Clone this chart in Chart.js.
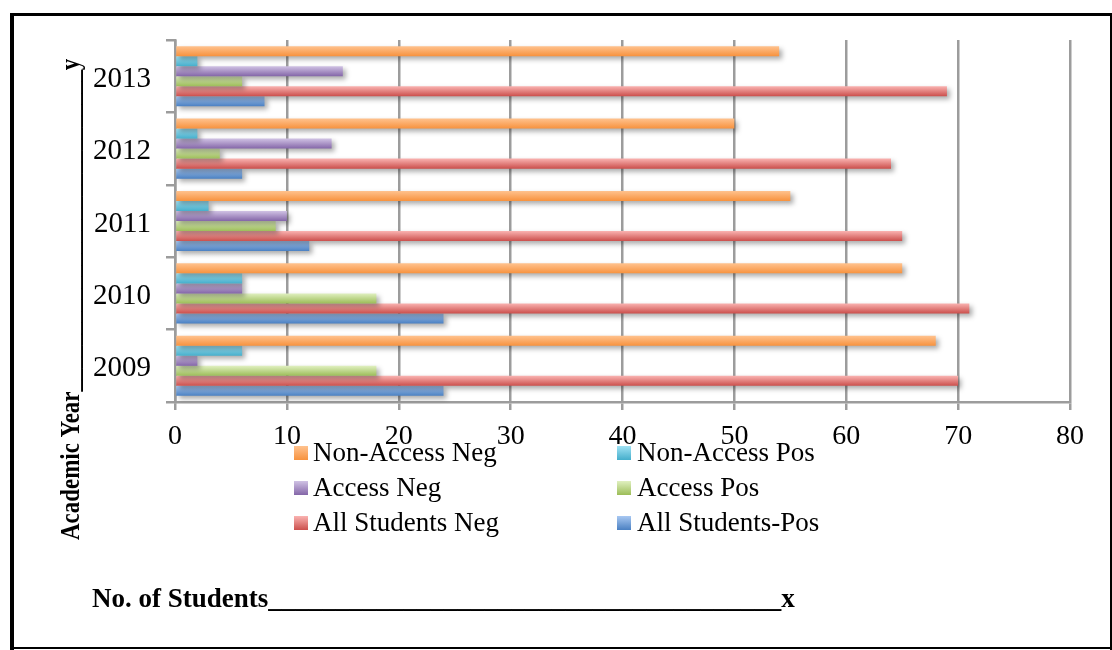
<!DOCTYPE html>
<html>
<head>
<meta charset="utf-8">
<script src="https://cdn.jsdelivr.net/npm/chart.js@4.4.1/dist/chart.umd.min.js"></script>
<style>
  html, body { margin: 0; padding: 0; background: #ffffff; }
  #wrap { width: 1112px; height: 650px; position: relative; }
  canvas { display: block; }
</style>
</head>
<body>
<div id="wrap"><canvas id="chart" width="1112" height="650"></canvas></div>
<script>
// Academic years, top to bottom
const years = ['2013', '2012', '2011', '2010', '2009'];

// Number of students per group and outcome
const nonAccessNeg = [54, 50, 55, 65, 68];
const nonAccessPos = [2, 2, 3, 6, 6];
const accessNeg    = [15, 14, 10, 6, 2];
const accessPos    = [6, 4, 9, 18, 18];
const allNeg       = [69, 64, 65, 71, 70];
const allPos       = [8, 6, 12, 24, 24];

const seriesNames = ['Non-Access Neg', 'Non-Access Pos', 'Access Neg', 'Access Pos', 'All Students Neg', 'All Students-Pos'];
const xTickValues = [0, 10, 20, 30, 40, 50, 60, 70, 80];

const yTitle = 'Academic Year' + '_'.repeat(28) + 'y';
const xTitle = 'No. of Students' + '_'.repeat(38) + 'x';

// light (top) and dark (bottom) shade for each series
const shades = [
  ['#FFC28E', '#F7923E'],
  ['#A0E2F4', '#45AECB'],
  ['#D0C2E4', '#8466A8'],
  ['#E0F0C0', '#9CBD58'],
  ['#FAB3B1', '#CB4F4C'],
  ['#A8C8F2', '#4A80C2']
];

const seriesValues = [nonAccessNeg, nonAccessPos, accessNeg, accessPos, allNeg, allPos];

const FONT = "'Liberation Serif', 'Times New Roman', serif";
const GRID = '#9c9c9c';

function shadeFill(ctx, top, bottom, idx) {
  const g = ctx.createLinearGradient(0, top, 0, bottom);
  g.addColorStop(0, shades[idx][0]);
  g.addColorStop(1, shades[idx][1]);
  return g;
}

// Bars are drawn one by one with a vertical shade and a soft drop shadow
const shadedBars = {
  id: 'shadedBars',
  beforeDatasetDraw(chart, args) {
    const ctx = chart.ctx;
    const idx = args.index;
    ctx.save();
    args.meta.data.forEach(bar => {
      const p = bar.getProps(['x', 'y', 'base', 'height'], true);
      bar.options.backgroundColor = shadeFill(ctx, p.y - p.height / 2, p.y + p.height / 2, idx);
      ctx.shadowColor = 'rgba(0,0,0,0.33)';
      ctx.shadowBlur = 5;
      ctx.shadowOffsetX = 3;
      ctx.shadowOffsetY = 3;
      bar.draw(ctx);
    });
    ctx.restore();
    return false;
  }
};

// Background, frame, two-column legend and the axis captions
const decor = {
  id: 'decor',
  beforeDraw(chart) {
    const ctx = chart.ctx;
    ctx.save();
    ctx.fillStyle = '#ffffff';
    ctx.fillRect(0, 0, chart.width, chart.height);
    ctx.restore();
  },
  afterDraw(chart) {
    const ctx = chart.ctx;
    ctx.save();
    // frame
    ctx.fillStyle = '#000000';
    ctx.fillRect(10, 13, 4, 637);
    ctx.fillRect(10, 13, 1102, 3);
    ctx.fillRect(10, 647, 1102, 2);
    ctx.fillRect(1110, 13, 2, 637);

    // legend
    const colX = [294, 617];
    const textX = [313, 637];
    const rowTop = [446, 481, 516];
    ctx.font = '27px ' + FONT;
    ctx.textBaseline = 'alphabetic';
    ctx.textAlign = 'left';
    chart.data.datasets.forEach((ds, i) => {
      const col = i % 2, row = Math.floor(i / 2);
      const x = colX[col], y = rowTop[row];
      ctx.fillStyle = shadeFill(ctx, y, y + 14, i);
      ctx.fillRect(x, y, 14, 14);
      ctx.fillStyle = '#000000';
      ctx.fillText(ds.label, textX[col], y + 15);
    });

    // axis captions
    ctx.font = 'bold 27px ' + FONT;
    ctx.fillStyle = '#000000';
    ctx.fillText(xTitle, 92, 607);

    ctx.translate(79, 540);
    ctx.rotate(-Math.PI / 2);
    ctx.scale(0.85, 1);
    ctx.fillText(yTitle, 0, 0);
    ctx.restore();
  }
};

Chart.defaults.font.family = FONT;
Chart.defaults.color = '#000000';

new Chart(document.getElementById('chart'), {
  type: 'bar',
  data: {
    labels: years,
    datasets: seriesValues.map((vals, i) => ({
      label: seriesNames[i],
      data: vals,
      backgroundColor: shades[i][1],
      borderWidth: 0,
      barPercentage: 1.0,
      categoryPercentage: 0.83
    }))
  },
  options: {
    indexAxis: 'y',
    responsive: false,
    animation: false,
    devicePixelRatio: 1,
    layout: { padding: { top: 40, right: 42, left: 0, bottom: 0 } },
    plugins: {
      legend: { display: false },
      tooltip: { enabled: false }
    },
    scales: {
      x: {
        min: 0,
        max: 80,
        afterBuildTicks: s => { s.ticks = xTickValues.map(v => ({ value: v })); },
        afterFit: s => { s.height = 248; },
        grid: { color: GRID, lineWidth: 2.5, tickLength: 8, drawTicks: true },
        border: { color: GRID, width: 2.5 },
        ticks: { font: { size: 28 }, color: '#000000', padding: 10, maxRotation: 0 }
      },
      y: {
        type: 'category',
        offset: true,
        afterFit: s => { s.width = 175; },
        grid: { drawOnChartArea: false, offset: true, color: GRID, lineWidth: 2.5, tickLength: 9 },
        border: { color: GRID, width: 2.5 },
        ticks: { font: { size: 29 }, color: '#000000', padding: 15, labelOffset: 3 }
      }
    }
  },
  plugins: [shadedBars, decor]
});
</script>
</body>
</html>
